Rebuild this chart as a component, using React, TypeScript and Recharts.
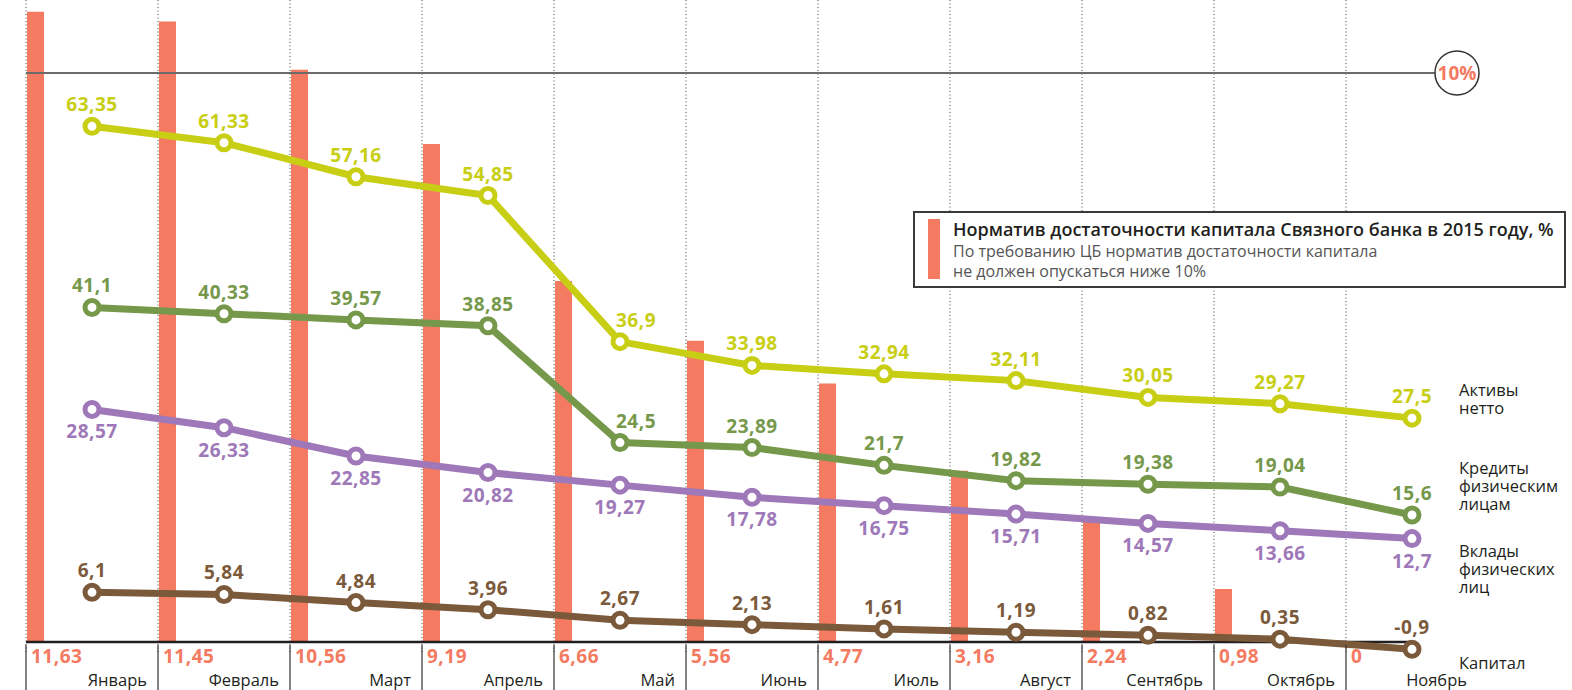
import React from "react"
import {
  ComposedChart,
  Bar,
  Line,
  XAxis,
  YAxis,
  ReferenceLine,
  LabelList,
  Legend,
} from "recharts"

const MONTHS = ["Январь", "Февраль", "Март", "Апрель", "Май", "Июнь", "Июль", "Август", "Сентябрь", "Октябрь", "Ноябрь"]

// Норматив достаточности капитала, %
const CAPITAL_RATIO = [11.63, 11.45, 10.56, 9.19, 6.66, 5.56, 4.77, 3.16, 2.24, 0.98, 0]

// млрд руб.
const NET_ASSETS = [63.35, 61.33, 57.16, 54.85, 36.9, 33.98, 32.94, 32.11, 30.05, 29.27, 27.5]
const RETAIL_LOANS = [41.1, 40.33, 39.57, 38.85, 24.5, 23.89, 21.7, 19.82, 19.38, 19.04, 15.6]
const RETAIL_DEPOSITS = [28.57, 26.33, 22.85, 20.82, 19.27, 17.78, 16.75, 15.71, 14.57, 13.66, 12.7]
const CAPITAL = [6.1, 5.84, 4.84, 3.96, 2.67, 2.13, 1.61, 1.19, 0.82, 0.35, -0.9]

// the original draws the "10%" line a bit above the true 10% mark
const THRESHOLD_DRAWN_AT = 10.5

const data = MONTHS.map((month, i) => ({
  month,
  ratio: CAPITAL_RATIO[i],
  assets: NET_ASSETS[i],
  loans: RETAIL_LOANS[i],
  deposits: RETAIL_DEPOSITS[i],
  capital: CAPITAL[i],
}))

const FONT = "'Open Sans', 'Noto Sans', sans-serif"
const SALMON = "#f47b61"
const INK = "#231f20"

const WIDTH = 1572
const HEIGHT = 690
const MARGIN = { top: 0, right: 94, bottom: 0, left: 26 }
const HALF_BAND = (WIDTH - MARGIN.left - MARGIN.right) / MONTHS.length / 2

const series = [
  { key: "assets", color: "#c8ce14", below: false, name: ["Активы", "нетто"], nameDy: -22, nudge: { 4: 16 } },
  { key: "loans", color: "#76984a", below: false, name: ["Кредиты", "физическим", "лицам"], nameDy: -41, nudge: { 4: 16 } },
  { key: "deposits", color: "#9e78b8", below: true, name: ["Вклады", "физических", "лиц"], nameDy: 18, nudge: {} },
  { key: "capital", color: "#7b5a3b", below: false, name: ["Капитал"], nameDy: 20, nudge: {} },
]

const fmt = (v: number) => String(v).replace(".", ",")

function MonthTick(props: any) {
  const { x, y, payload, index } = props
  const x0 = x - HALF_BAND
  return (
    <g>
      <line x1={x0} x2={x0} y1={y - 7} y2={y + 40} stroke="#333" strokeWidth={1.2} />
      <text x={x0 + 5} y={y + 11} fill={SALMON} fontSize={19} fontWeight={700} letterSpacing={0.5} fontFamily={FONT}>
        {fmt(CAPITAL_RATIO[index])}
      </text>
      <text x={x + HALF_BAND - 11} y={y + 34} textAnchor="end" fill={INK} fontSize={16.5} fontFamily={FONT}>
        {payload.value}
      </text>
    </g>
  )
}

function ThresholdBadge(props: any) {
  const { x, y, width } = props.viewBox
  const cx = x + width - 21
  return (
    <g>
      <circle cx={cx} cy={y} r={22} fill="#fff" stroke="#333" strokeWidth={1.5} />
      <text x={cx} y={y + 7} textAnchor="middle" fill={SALMON} fontSize={19} fontWeight={700} fontFamily={FONT}>
        10%
      </text>
    </g>
  )
}

function pointOf(props: any) {
  const vb = props.viewBox || {}
  return { px: props.x ?? vb.x, py: props.y ?? vb.y }
}

function valueLabel(s: (typeof series)[number]) {
  return (props: any) => {
    const { px, py } = pointOf(props)
    const dx = (s.nudge as Record<number, number>)[props.index] ?? 0
    return (
      <text
        x={px + dx}
        y={s.below ? py + 29 : py - 15}
        textAnchor="middle"
        fill={s.color}
        fontSize={19}
        fontWeight={700}
        letterSpacing={0.5}
        fontFamily={FONT}
      >
        {fmt(props.value)}
      </text>
    )
  }
}

function seriesName(s: (typeof series)[number]) {
  return (props: any) => {
    if (props.index !== MONTHS.length - 1) return null
    const { px, py } = pointOf(props)
    return (
      <g>
        {s.name.map((line, i) => (
          <text key={i} x={px + 47} y={py + s.nameDy + i * 18} fill={INK} fontSize={16.5} fontFamily={FONT}>
            {line}
          </text>
        ))}
      </g>
    )
  }
}

function LegendBox() {
  return (
    <div
      style={{
        boxSizing: "border-box",
        width: 653,
        height: 77,
        border: "2px solid #3a3a3a",
        background: "#fff",
        position: "relative",
        fontFamily: FONT,
      }}
    >
      <div style={{ position: "absolute", left: 13, top: 6, width: 12, height: 60, background: SALMON }} />
      <div
        style={{
          position: "absolute",
          left: 38,
          top: 6,
          fontSize: 18,
          lineHeight: "20px",
          fontWeight: 600,
          color: INK,
          whiteSpace: "nowrap",
        }}
      >
        Норматив достаточности капитала Связного банка в 2015 году, %
      </div>
      <div
        style={{
          position: "absolute",
          left: 38,
          top: 28,
          fontSize: 16,
          lineHeight: "20px",
          color: "#555",
          whiteSpace: "nowrap",
        }}
      >
        По требованию ЦБ норматив достаточности капитала
        <br />
        не должен опускаться ниже 10%
      </div>
    </div>
  )
}

export default function App() {
  return (
    <div style={{ width: WIDTH, height: HEIGHT, fontFamily: FONT, background: "#fff" }}>
      <style>{"body{margin:0}"}</style>
      <ComposedChart width={WIDTH} height={HEIGHT} data={data} margin={MARGIN} barGap={0}>
        <XAxis
          dataKey="month"
          height={38}
          interval={0}
          tickSize={0}
          tickMargin={0}
          tickLine={false}
          axisLine={false}
          tick={(p: any) => <MonthTick {...p} />}
        />
        <YAxis yAxisId="ratio" hide type="number" scale="linear" domain={[-0.1845, 11.845]} />
        <YAxis yAxisId="val" hide type="number" scale="linear" domain={[-1.23, 78.87]} />

        {MONTHS.map((m) => (
          <ReferenceLine
            key={m}
            yAxisId="val"
            x={m}
            position="start"
            stroke="#444"
            strokeWidth={1}
            strokeDasharray="1 2.5"
          />
        ))}

        {/* narrow bar at the left edge of each month, the wide one only takes up the rest of the band */}
        <Bar yAxisId="ratio" dataKey="ratio" barSize={17} fill={SALMON} isAnimationActive={false} />
        <Bar yAxisId="ratio" dataKey="ratio" barSize={114} fill="none" isAnimationActive={false} />

        <ReferenceLine
          yAxisId="ratio"
          y={THRESHOLD_DRAWN_AT}
          stroke="#6b6b6b"
          strokeWidth={2}
          label={(p: any) => <ThresholdBadge {...p} />}
        />
        <ReferenceLine
          yAxisId="val"
          position="start"
          segment={[
            { x: MONTHS[0], y: 0 },
            { x: MONTHS[MONTHS.length - 1], y: 0 },
          ]}
          stroke={INK}
          strokeWidth={2.5}
        />
        <ReferenceLine
          yAxisId="val"
          position="middle"
          segment={[
            { x: MONTHS[MONTHS.length - 2], y: 0 },
            { x: MONTHS[MONTHS.length - 1], y: 0 },
          ]}
          stroke={INK}
          strokeWidth={2.5}
        />

        {series.map((s) => (
          <Line
            key={s.key}
            yAxisId="val"
            dataKey={s.key}
            type="linear"
            stroke={s.color}
            strokeWidth={7}
            dot={{ r: 7, fill: "#fff", stroke: s.color, strokeWidth: 5 }}
            isAnimationActive={false}
          >
            <LabelList dataKey={s.key} content={valueLabel(s)} />
            <LabelList dataKey={s.key} content={seriesName(s)} />
          </Line>
        ))}

        <Legend
          layout="horizontal"
          verticalAlign="middle"
          content={() => <LegendBox />}
          wrapperStyle={{ left: 913, top: 211, width: 653, height: 77 }}
        />
      </ComposedChart>
    </div>
  )
}
